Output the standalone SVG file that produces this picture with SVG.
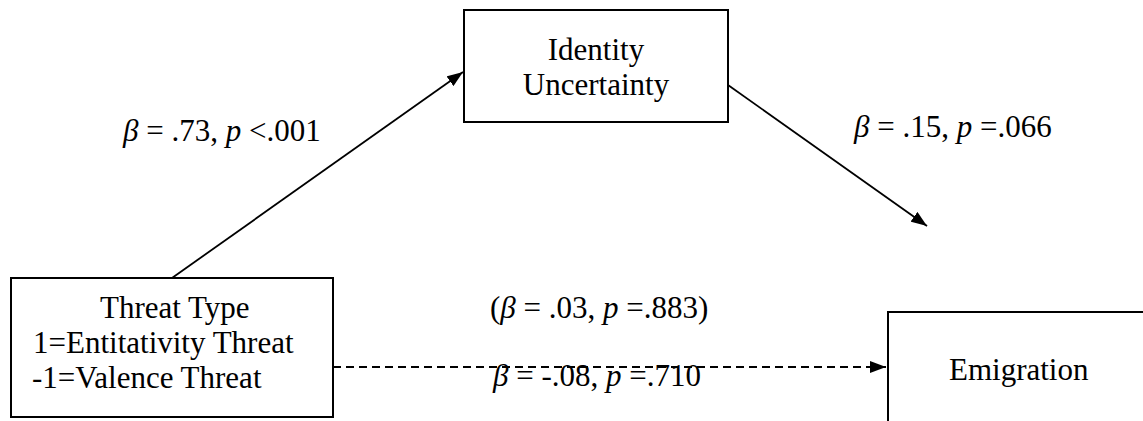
<svg xmlns="http://www.w3.org/2000/svg" width="1143" height="421" viewBox="0 0 1143 421">
<style>
.box{fill:#fff;stroke:#000;stroke-width:2}
.t{font-family:"Liberation Serif","Times New Roman",serif;font-size:31px;fill:#000}
.i{font-style:italic}
.ln{stroke:#000;stroke-width:1.8;fill:none}
.dash{stroke-dasharray:8 5}
</style>
<defs>
<marker id="ah" markerWidth="16" markerHeight="12" refX="16" refY="6" orient="auto" markerUnits="userSpaceOnUse">
<path d="M0,0 L16,6 L0,12 Z" fill="#000"/>
</marker>
</defs>
<rect width="1143" height="421" fill="#fff"/>
<g id="connectors">
<line class="ln" x1="172" y1="278" x2="463" y2="72" marker-end="url(#ah)"/>
<line class="ln" x1="728" y1="85" x2="927" y2="226" marker-end="url(#ah)"/>
<line class="ln dash" x1="333" y1="367" x2="886" y2="367" marker-end="url(#ah)"/>
</g>
<g id="identity">
<rect class="box" x="464" y="10" width="264" height="112"/>
<text class="t" x="596" y="60" text-anchor="middle">Identity</text>
<text class="t" x="596" y="95" text-anchor="middle">Uncertainty</text>
</g>
<g id="threat">
<rect class="box" x="11" y="278" width="322" height="139"/>
<text class="t" x="100" y="318">Threat Type</text>
<text class="t" x="33" y="353">1=Entitativity Threat</text>
<text class="t" x="32" y="388">-1=Valence Threat</text>
</g>
<g id="emigration">
<rect class="box" x="888" y="312" width="300" height="150"/>
<text class="t" x="949" y="380">Emigration</text>
</g>
<g id="labels">
<text class="t" x="123" y="141"><tspan class="i">β</tspan> = .73, <tspan class="i">p</tspan> &lt;.001</text>
<text class="t" x="854" y="137"><tspan class="i">β</tspan> = .15, <tspan class="i">p</tspan> =.066</text>
<text class="t" x="490" y="318">(<tspan class="i">β</tspan> = .03, <tspan class="i">p</tspan> =.883)</text>
<text class="t" x="493" y="386"><tspan class="i">β</tspan> = -.08, <tspan class="i">p</tspan> =.710</text>
</g>
</svg>
